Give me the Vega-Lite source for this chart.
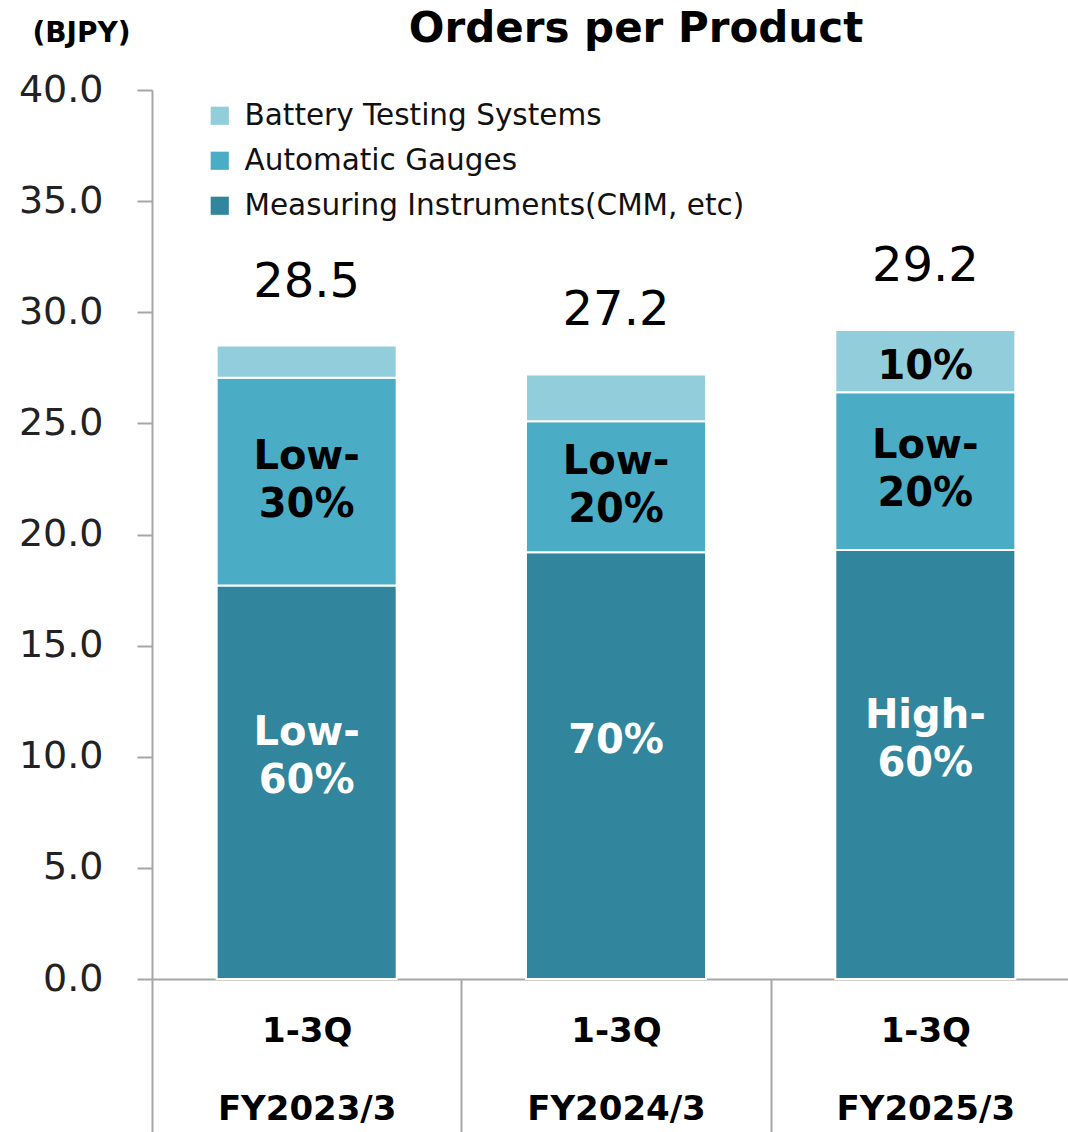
{
  "$schema": "https://vega.github.io/schema/vega-lite/v6.json",
  "width": 928,
  "height": 889,
  "autosize": {"type": "none"},
  "padding": {"left": 152, "top": 90, "right": 0, "bottom": 153},
  "background": "white",
  "title": {
    "text": "Orders per Product",
    "anchor": "middle",
    "frame": "group",
    "dx": 20,
    "offset": -32,
    "fontSize": 42,
    "fontWeight": "bold",
    "font": "DejaVu Sans",
    "color": "black"
  },
  "data": {
    "values": [
      {"period": "1-3Q|FY2023/3", "product": "Measuring Instruments(CMM, etc)", "value": 17.7, "label": "Low-|60%"},
      {"period": "1-3Q|FY2023/3", "product": "Automatic Gauges", "value": 9.35, "label": "Low-|30%"},
      {"period": "1-3Q|FY2023/3", "product": "Battery Testing Systems", "value": 1.45, "label": ""},
      {"period": "1-3Q|FY2024/3", "product": "Measuring Instruments(CMM, etc)", "value": 19.2, "label": "70%"},
      {"period": "1-3Q|FY2024/3", "product": "Automatic Gauges", "value": 5.9, "label": "Low-|20%"},
      {"period": "1-3Q|FY2024/3", "product": "Battery Testing Systems", "value": 2.1, "label": ""},
      {"period": "1-3Q|FY2025/3", "product": "Measuring Instruments(CMM, etc)", "value": 19.3, "label": "High-|60%"},
      {"period": "1-3Q|FY2025/3", "product": "Automatic Gauges", "value": 7.1, "label": "Low-|20%"},
      {"period": "1-3Q|FY2025/3", "product": "Battery Testing Systems", "value": 2.8, "label": "10%"}
    ]
  },
  "transform": [
    {"calculate": "indexof(['Measuring Instruments(CMM, etc)','Automatic Gauges','Battery Testing Systems'], datum.product)", "as": "ord"}
  ],
  "encoding": {
    "x": {
      "field": "period",
      "type": "nominal",
      "title": null,
      "sort": null,
      "scale": {"paddingInner": 0, "paddingOuter": 0},
      "axis": {"labelExpr": "split(datum.label, '|')", "labelAngle": 0}
    }
  },
  "layer": [
    {
      "mark": {"type": "bar", "stroke": "white", "strokeWidth": 2, "width": {"band": 0.582}},
      "encoding": {
        "y": {"field": "value", "type": "quantitative", "stack": "zero", "title": "(BJPY)",
              "scale": {"domain": [0, 40]},
              "axis": {"values": [0, 5, 10, 15, 20, 25, 30, 35, 40], "format": ".1f"}},
        "color": {
          "field": "product",
          "type": "nominal",
          "scale": {
            "domain": ["Battery Testing Systems", "Automatic Gauges", "Measuring Instruments(CMM, etc)"],
            "range": ["#92CDDC", "#4BACC6", "#31859C"]
          },
          "legend": {
            "title": null,
            "orient": "none",
            "legendX": 53,
            "legendY": 11,
            "symbolType": "square",
            "symbolSize": 330,
            "symbolStrokeWidth": 0,
            "labelFontSize": 29.5,
            "labelFont": "DejaVu Sans",
            "labelColor": "#111",
            "labelOffset": 10,
            "rowPadding": 14,
            "labelLimit": 700
          }
        },
        "order": {"field": "ord", "type": "quantitative", "sort": "ascending"}
      }
    },
    {
      "transform": [
        {"stack": "value", "groupby": ["period"], "sort": [{"field": "ord", "order": "ascending"}], "as": ["v0", "v1"]},
        {"calculate": "(datum.v0 + datum.v1) / 2", "as": "mid"},
        {"filter": "datum.ord == 0 && indexof(datum.label, '|') >= 0"}
      ],
      "mark": {"type": "text", "lineBreak": "|", "lineHeight": 48, "fontSize": 40, "fontWeight": "bold", "color": "white", "baseline": "middle", "dy": -49, "font": "DejaVu Sans"},
      "encoding": {
        "y": {"field": "mid", "type": "quantitative", "title": "(BJPY)"},
        "text": {"field": "label"}
      }
    },
    {
      "transform": [
        {"stack": "value", "groupby": ["period"], "sort": [{"field": "ord", "order": "ascending"}], "as": ["v0", "v1"]},
        {"calculate": "(datum.v0 + datum.v1) / 2", "as": "mid"},
        {"filter": "datum.ord == 0 && indexof(datum.label, '|') < 0"}
      ],
      "mark": {"type": "text", "fontSize": 40, "fontWeight": "bold", "color": "white", "baseline": "middle", "dy": -25, "font": "DejaVu Sans"},
      "encoding": {
        "y": {"field": "mid", "type": "quantitative", "title": "(BJPY)"},
        "text": {"field": "label"}
      }
    },
    {
      "transform": [
        {"stack": "value", "groupby": ["period"], "sort": [{"field": "ord", "order": "ascending"}], "as": ["v0", "v1"]},
        {"calculate": "(datum.v0 + datum.v1) / 2", "as": "mid"},
        {"filter": "datum.ord == 1"}
      ],
      "mark": {"type": "text", "lineBreak": "|", "lineHeight": 48, "fontSize": 40, "fontWeight": "bold", "color": "black", "baseline": "middle", "dy": -25, "font": "DejaVu Sans"},
      "encoding": {
        "y": {"field": "mid", "type": "quantitative", "title": "(BJPY)"},
        "text": {"field": "label"}
      }
    },
    {
      "transform": [
        {"stack": "value", "groupby": ["period"], "sort": [{"field": "ord", "order": "ascending"}], "as": ["v0", "v1"]},
        {"calculate": "(datum.v0 + datum.v1) / 2", "as": "mid"},
        {"filter": "datum.ord == 2 && datum.label != ''"}
      ],
      "mark": {"type": "text", "fontSize": 40, "fontWeight": "bold", "color": "black", "baseline": "middle", "dy": 6, "font": "DejaVu Sans"},
      "encoding": {
        "y": {"field": "mid", "type": "quantitative", "title": "(BJPY)"},
        "text": {"field": "label"}
      }
    },
    {
      "transform": [
        {"aggregate": [{"op": "sum", "field": "value", "as": "total"}], "groupby": ["period"]}
      ],
      "mark": {"type": "text", "fontSize": 48, "color": "black", "baseline": "middle", "dy": -63, "font": "DejaVu Sans"},
      "encoding": {
        "y": {"field": "total", "type": "quantitative", "title": "(BJPY)"},
        "text": {"field": "total", "type": "quantitative", "format": ".1f"}
      }
    }
  ],
  "config": {
    "view": {"stroke": null},
    "font": "DejaVu Sans",
    "axis": {"grid": false, "domainColor": "#a6a6a6", "tickColor": "#a6a6a6", "domainWidth": 2, "tickWidth": 2},
    "axisY": {
      "tickSize": 15,
      "labelPadding": 34,
      "labelFontSize": 38,
      "labelColor": "#222",
      "labelFont": "DejaVu Sans",
      "titleAngle": 0,
      "titleX": -71,
      "titleY": -57,
      "titleAlign": "center",
      "titleBaseline": "middle",
      "titleFontSize": 28,
      "titleFontWeight": "bold",
      "titleColor": "black"
    },
    "axisX": {
      "tickBand": "extent",
      "tickSize": 153,
      "labelPadding": -118,
      "labelFontSize": 34,
      "labelFontWeight": "bold",
      "labelColor": "black",
      "labelBaseline": "top",
      "labelLineHeight": 78,
      "labelFont": "DejaVu Sans"
    }
  }
}
